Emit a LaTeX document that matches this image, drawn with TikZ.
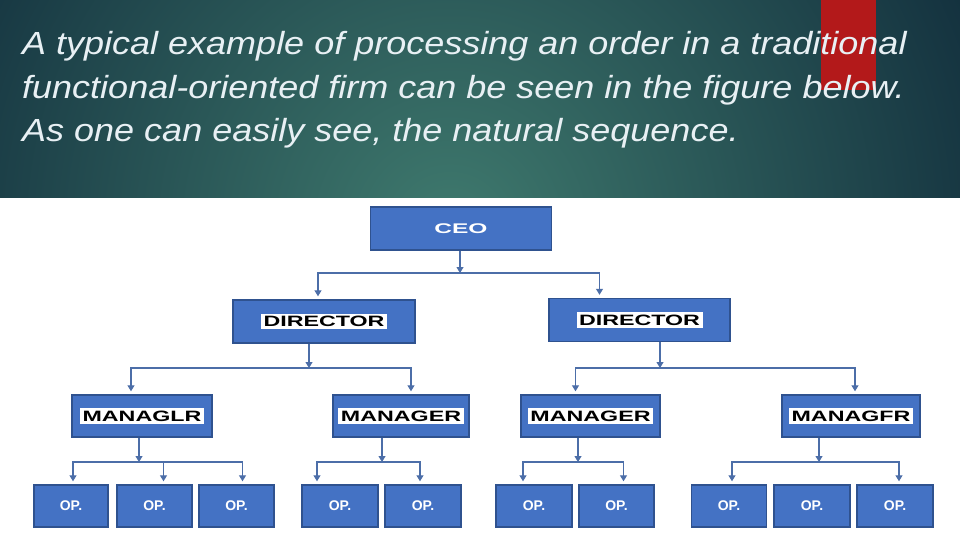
\documentclass[tikz,border=0pt]{standalone}
\usepackage{fontspec}
\setmainfont{Liberation Sans}
\usepackage{xcolor}
\usepackage{graphicx}
\usetikzlibrary{positioning,calc,arrows.meta}

\definecolor{hdrdark}{HTML}{14323F}
\definecolor{hdrlight}{HTML}{3F7A6E}
\definecolor{hdrtext}{HTML}{E8F0F4}
\definecolor{tabred}{HTML}{B3191A}
\definecolor{boxblue}{HTML}{4472C4}
\definecolor{boxedge}{HTML}{2F528F}
\definecolor{wireblue}{HTML}{4C6EA8}

\newcommand{\widelabel}[1]{{\setlength{\fboxsep}{2.5pt}\colorbox{white}{\scalebox{1.55}[1]{\fontsize{15}{17}\selectfont\textbf{#1}}}}}
\newcommand{\hdrline}[1]{\scalebox{1.125}[1]{#1}}

\tikzset{
  unit/.style={draw=boxedge, fill=boxblue, line width=1.4pt, inner sep=0pt,
    minimum height=43pt, font=\fontsize{14}{16}\selectfont\bfseries},
  opbox/.style={unit, minimum width=75pt, minimum height=42pt, text=white},
  wire/.style={draw=wireblue, line width=1.1pt},
  arr/.style={wire, -{Triangle[width=7pt,length=6pt]}},
  hdr/.style={anchor=base west, inner sep=0pt, text=hdrtext,
    font=\fontsize{32}{38}\selectfont\itshape}
}

\begin{document}
\begin{tikzpicture}[x=1pt, y=-1pt]
  \useasboundingbox (0,0) rectangle (960,540);
  \fill[white] (0,0) rectangle (960,540);

  % Header band
  \begin{scope}
    \clip (0,0) rectangle (960,197);
    \shade[inner color=hdrlight, outer color=hdrdark] (450,230) circle (560);
  \end{scope}
  \fill[tabred] (821,0) rectangle (876,90);
  \node[hdr] (hdr1) at (22,55) {\hdrline{A typical example of processing an order in a traditional}};
  \node[hdr] (hdr2) at (22,98.5) {\hdrline{functional-oriented firm can be seen in the figure below.}};
  \node[hdr] (hdr3) at (22,142) {\hdrline{As one can easily see, the natural sequence.}};

  % Top level
  \node[unit, minimum width=181pt, text=white] (ceo) at (461,228.5) {\scalebox{1.75}[1]{CEO}};

  % Directors
  \node[unit, minimum width=182pt] (dir1) at (324,321.5) {\widelabel{DIRECTOR}};
  \node[unit, minimum width=181pt] (dir2) at (639.5,320) {\widelabel{DIRECTOR}};

  % Managers
  \node[unit, minimum width=140pt, minimum height=42pt] (mgr1) at (142,416) {\widelabel{MANAGLR}};
  \node[unit, minimum width=136pt, minimum height=42pt] (mgr2) at (401,416) {\widelabel{MANAGER}};
  \node[unit, minimum width=139pt, minimum height=42pt] (mgr3) at (590.5,416) {\widelabel{MANAGER}};
  \node[unit, minimum width=138pt, minimum height=42pt] (mgr4) at (851,416) {\widelabel{MANAGFR}};

  % Operators
  \node[opbox, minimum width=74pt] (op1) at (71,506) {OP.};
  \node[opbox] (op2) at (154.5,506) {OP.};
  \node[opbox] (op3) at (236.5,506) {OP.};
  \node[opbox, minimum width=76pt] (op4) at (340,506) {OP.};
  \node[opbox, minimum width=76pt] (op5) at (423,506) {OP.};
  \node[opbox, minimum width=76pt] (op6) at (534,506) {OP.};
  \node[opbox] (op7) at (616.5,506) {OP.};
  \node[opbox] (op8) at (729,506) {OP.};
  \node[opbox, minimum width=76pt] (op9) at (812,506) {OP.};
  \node[opbox, minimum width=76pt] (op10) at (895,506) {OP.};

  % Bus junctions
  \coordinate (ceobus) at (460,273);
  \coordinate (dir1bus) at (309,368);
  \coordinate (dir2bus) at (660,368);
  \coordinate (mgr1bus) at (139,462);
  \coordinate (mgr2bus) at (382,462);
  \coordinate (mgr3bus) at (578,462);
  \coordinate (mgr4bus) at (819,462);

  % CEO -> directors
  \draw[arr] (ceo.south -| ceobus) -- (ceobus);
  \draw[arr] (ceobus) -| ([xshift=-6pt, yshift=3pt]dir1.north);
  \draw[arr] (ceobus) -| ([xshift=-40pt, yshift=3pt]dir2.north);

  % Directors -> managers
  \draw[arr] (dir1.south -| dir1bus) -- (dir1bus);
  \draw[arr] (dir1bus) -| ([xshift=-11pt, yshift=3pt]mgr1.north);
  \draw[arr] (dir1bus) -| ([xshift=10pt, yshift=3pt]mgr2.north);
  \draw[arr] (dir2.south -| dir2bus) -- (dir2bus);
  \draw[arr] (dir2bus) -| ([xshift=-15pt, yshift=3pt]mgr3.north);
  \draw[arr] (dir2bus) -| ([xshift=4pt, yshift=3pt]mgr4.north);

  % Managers -> operators
  \draw[arr] (mgr1.south -| mgr1bus) -- (mgr1bus);
  \draw[arr] (mgr1bus) -| ([xshift=2pt, yshift=3pt]op1.north);
  \draw[arr] (mgr1bus) -| ([xshift=9pt, yshift=3pt]op2.north);
  \draw[arr] (mgr1bus) -| ([xshift=6pt, yshift=3pt]op3.north);
  \draw[arr] (mgr2.south -| mgr2bus) -- (mgr2bus);
  \draw[arr] (mgr2bus) -| ([xshift=-23pt, yshift=3pt]op4.north);
  \draw[arr] (mgr2bus) -| ([xshift=-3pt, yshift=3pt]op5.north);
  \draw[arr] (mgr3.south -| mgr3bus) -- (mgr3bus);
  \draw[arr] (mgr3bus) -| ([xshift=-11pt, yshift=3pt]op6.north);
  \draw[arr] (mgr3bus) -| ([xshift=7pt, yshift=3pt]op7.north);
  \draw[arr] (mgr4.south -| mgr4bus) -- (mgr4bus);
  \draw[arr] (mgr4bus) -| ([xshift=3pt, yshift=3pt]op8.north);
  \draw[arr] (mgr4bus) -| ([xshift=4pt, yshift=3pt]op10.north);
\end{tikzpicture}
\end{document}
